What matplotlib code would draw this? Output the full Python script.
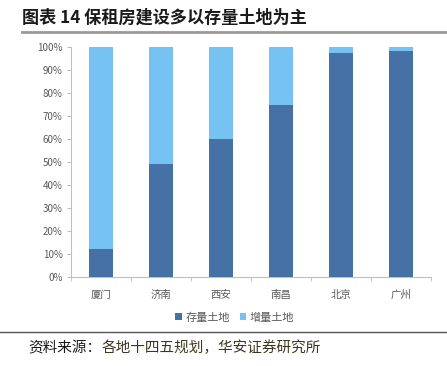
import matplotlib.pyplot as plt
import numpy as np

plt.rcParams['font.family'] = ['Noto Sans CJK SC', 'DejaVu Sans']

# data
cities = ['厦门', '济南', '西安', '南昌', '北京', '广州']
stock = [12, 49, 60, 75, 97.5, 98.5]
new = [100 - v for v in stock]
dark = '#4571A6'
light = '#75C2F3'

fig = plt.figure(figsize=(4.47, 3.66), dpi=100)
ax = fig.add_axes([0.159, 0.243, 0.805, 0.628])

x = np.arange(len(cities))
ax.bar(x, stock, width=0.4, color=dark, label='存量土地', zorder=3)
ax.bar(x, new, width=0.4, bottom=stock, color=light, label='增量土地', zorder=3)

ax.set_xlim(-0.5, len(cities) - 0.5)
ax.set_ylim(0, 100)
ax.set_yticks(np.arange(0, 101, 10))
ax.set_yticklabels([f'{v}%' for v in range(0, 101, 10)], color='#595959', fontsize=7)
ax.set_xticks(x)
ax.set_xticklabels(cities, color='#595959', fontsize=7.5)
ax.tick_params(axis='x', length=0, pad=9)
ax.set_xticks(np.arange(-0.5, len(cities), 1), minor=True)
ax.tick_params(axis='x', which='minor', length=3, color='#bfbfbf')
ax.tick_params(axis='y', length=3, color='#bfbfbf', pad=3)
for s in ['top', 'right']:
    ax.spines[s].set_visible(False)
ax.spines['left'].set_color('#bfbfbf')
ax.spines['bottom'].set_color('#bfbfbf')

ax.legend(loc='upper center', bbox_to_anchor=(0.455, -0.11), ncol=2, frameon=False,
          fontsize=8, handlelength=0.6, handleheight=0.6, handletextpad=0.3,
          columnspacing=0.9, labelcolor='#595959')

# title and source
fig.text(22 / 447, 1 - 18 / 366, '图表 14 保租房建设多以存量土地为主', fontsize=12.3,
         fontweight='bold', va='center', ha='left', color='#1a1a1a')
fig.add_artist(plt.Line2D([22 / 447, 1], [1 - 32 / 366] * 2, color='#999999', lw=2))
fig.add_artist(plt.Line2D([0, 1], [1 - 332 / 366] * 2, color='#555555', lw=1))
t1 = fig.text(28 / 447, 1 - 348 / 366, '资料来源：', fontsize=10.5, va='center', ha='left',
              color='#1a1a1a')
fig.canvas.draw()
bb = t1.get_window_extent()
fig.text(bb.x1 / fig.bbox.width, 1 - 348 / 366, '各地十四五规划，华安证券研究所', fontsize=10.5,
         va='center', ha='left', color='#3b3620')

fig.savefig('out.png', dpi=100)
